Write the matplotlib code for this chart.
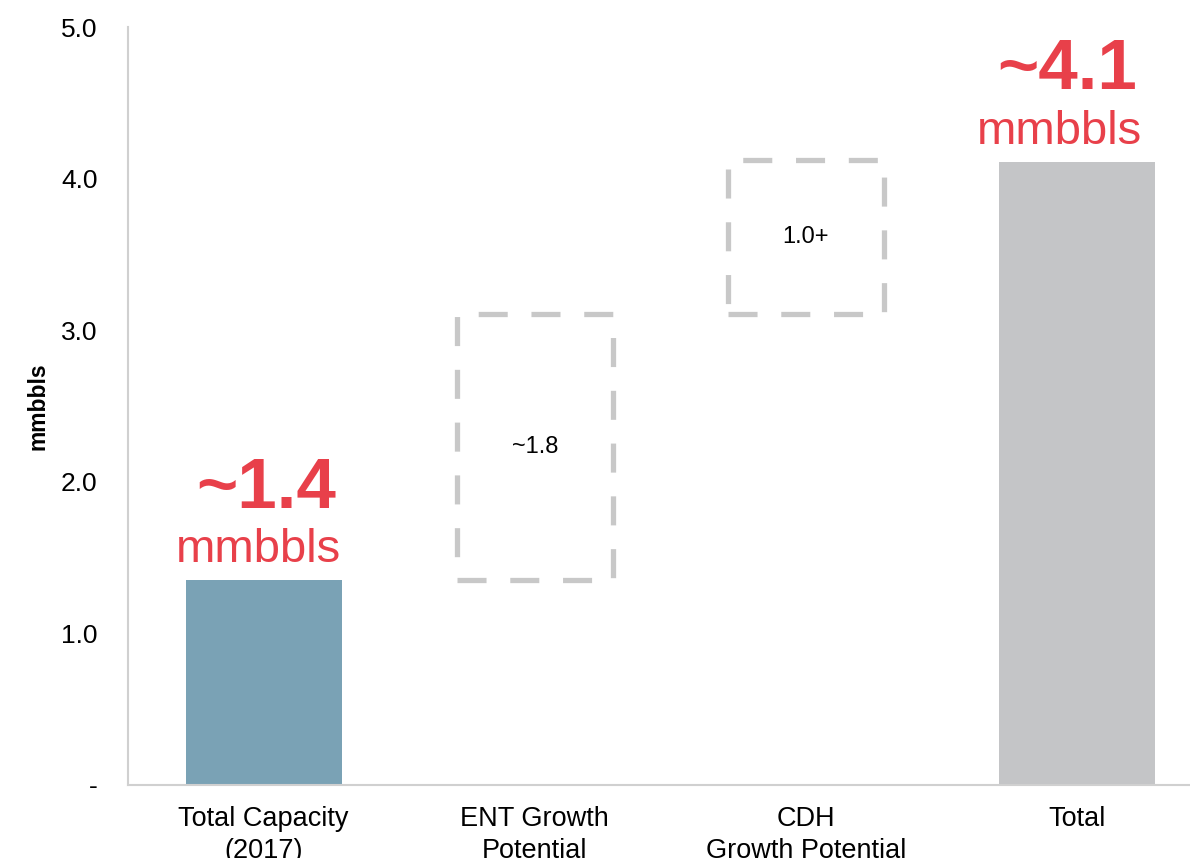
import matplotlib.pyplot as plt
from matplotlib.patches import Rectangle

plt.rcParams['font.family'] = ['Liberation Sans', 'DejaVu Sans']

# 数据
categories = ['Total Capacity\n(2017)', 'ENT Growth\nPotential', 'CDH\nGrowth Potential', 'Total']
bottoms = [0, 1.35, 3.11, 0]
heights = [1.35, 1.76, 1.01, 4.11]
inner_labels = ['', '~1.8', '1.0+', '']
big_labels = ['~1.4', '', '', '~4.1']
y_ticks = [0, 1, 2, 3, 4, 5]
y_ticklabels = ['-', '1.0', '2.0', '3.0', '4.0', '5.0']

red = '#E8404A'
fig = plt.figure(figsize=(11.9, 8.58), dpi=100)
ax = fig.add_axes([0.1076, 0.0851, 0.8924, 0.8834])

w = 0.575
x = list(range(len(categories)))
# 实心柱
ax.bar(x[0], heights[0], width=w, bottom=bottoms[0], color='#7AA2B5')
ax.bar(x[3], heights[3], width=w, bottom=bottoms[3], color='#C4C5C7')

# 虚线框
for i in (1, 2):
    r = Rectangle((x[i] - w / 2, bottoms[i]), w, heights[i], fill=False,
                  edgecolor='#C8C8C8', linewidth=3.8, linestyle=(0, (5.5, 4.5)),
                  joinstyle='round', capstyle='butt')
    ax.add_patch(r)
    ax.text(x[i], bottoms[i] + heights[i] / 2, inner_labels[i], ha='center',
            va='center', fontsize=17, color='black')

# 红色大标签
for i, dx in ((0, 0.01), (3, -0.035)):
    top = bottoms[i] + heights[i]
    ax.text(x[i] + dx, top + 0.48, big_labels[i], ha='center', va='baseline',
            fontsize=51, fontweight='bold', color=red)
    ax.text(x[i] + dx - 0.03, top + 0.12, 'mmbbls', ha='center', va='baseline',
            fontsize=34, color=red)

ax.set_xlim(-0.5, 3.417)
ax.set_ylim(0, 5)
ax.set_yticks(y_ticks)
ax.set_yticklabels(y_ticklabels, fontsize=19)
ax.set_xticks(x)
ax.set_xticklabels(categories, fontsize=19.5, linespacing=1.3)
ax.tick_params(axis='both', length=0)
ax.tick_params(axis='y', pad=22)
ax.tick_params(axis='x', pad=15)
ax.set_ylabel('mmbbls', fontsize=16.5, fontweight='bold', labelpad=8)

for s in ('top', 'right'):
    ax.spines[s].set_visible(False)
for s in ('left', 'bottom'):
    ax.spines[s].set_color('#D0D0D0')
    ax.spines[s].set_linewidth(1.5)

fig.savefig('out.png', dpi=100)
